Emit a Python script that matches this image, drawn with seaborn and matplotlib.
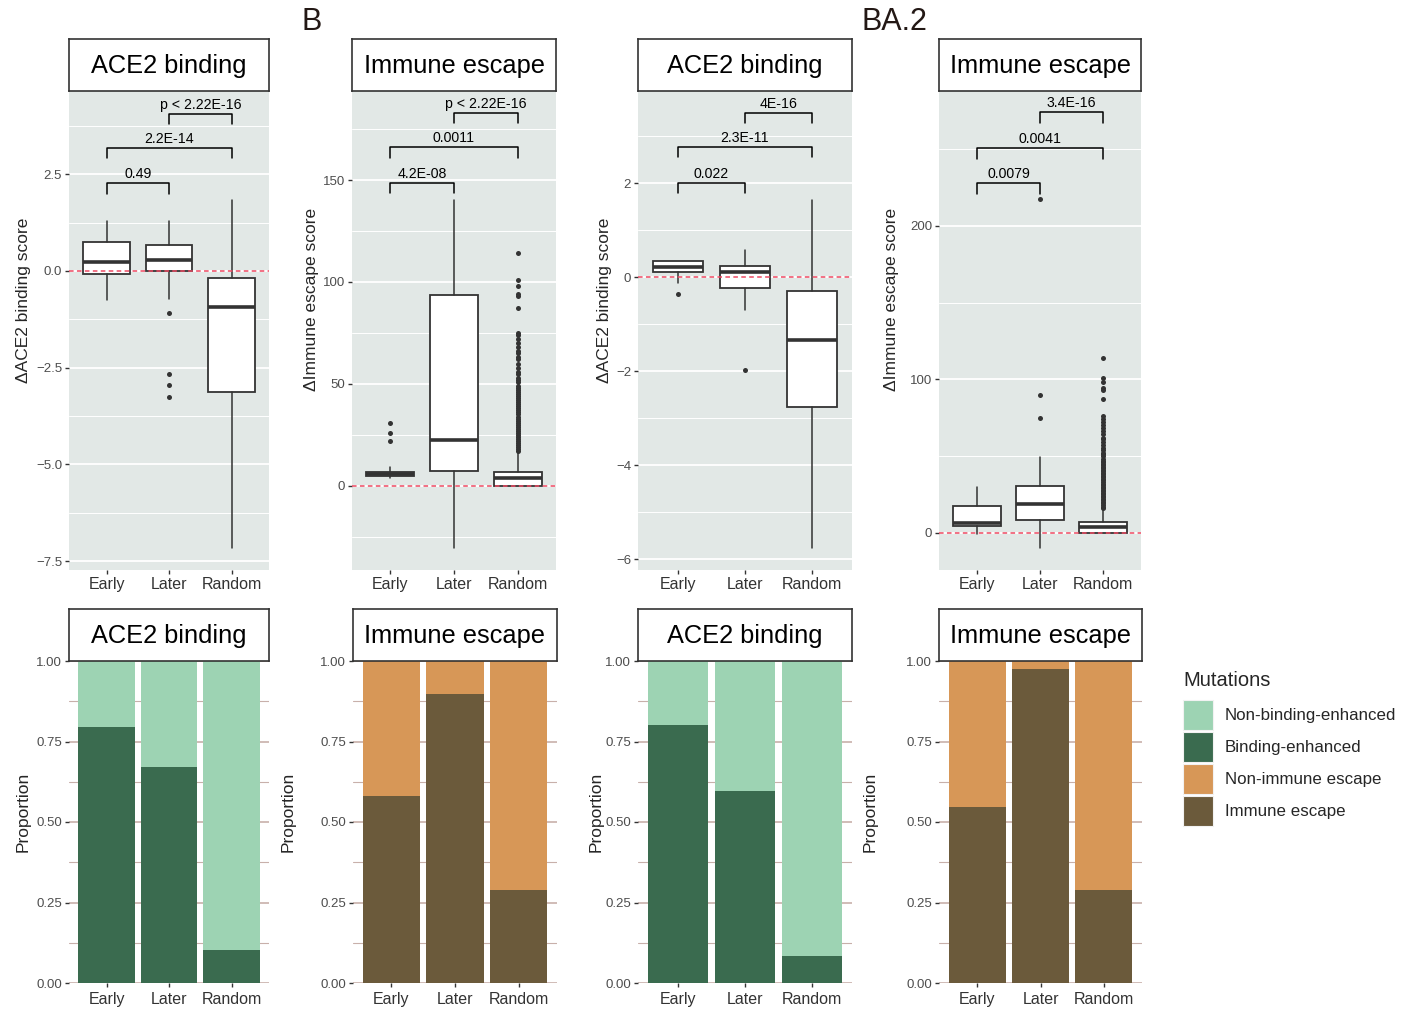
import numpy as np
import pandas as pd
import matplotlib
matplotlib.use("Agg")
import matplotlib.pyplot as plt
from matplotlib.patches import Patch
import seaborn as sns

# ---------------- data ----------------
groups = ["Early", "Later", "Random"]

# panel 1: ACE2 binding (first set)
a1_lo = [-0.74, -0.72, -7.15]
a1_q1 = [-0.09, 0.00, -3.13]
a1_med = [0.23, 0.29, -0.94]
a1_q3 = [0.74, 0.66, -0.18]
a1_hi = [1.30, 1.30, 1.83]
a1_out = [[], [-1.10, -2.67, -2.95, -3.27], []]
a1_pvals = ["0.49", "2.2E-14", "p < 2.22E-16"]
a1_bracket_y = [2.26, 3.18, 4.06]

# panel 2: immune escape (first set)
i1_lo = [4.0, -30.6, 0.0]
i1_q1 = [4.7, 7.1, 0.0]
i1_med = [5.6, 22.5, 3.75]
i1_q3 = [6.6, 93.8, 6.6]
i1_hi = [9.0, 140.3, 16.0]
i1_out = [[22.1, 25.7, 30.6], [],
          [17, 18, 19, 20, 21, 22, 23, 24, 25, 26, 27, 28, 29, 30, 31, 32, 33, 34, 35,
           36, 37, 38, 39, 40, 41, 42, 43, 44, 45, 46, 47, 48, 49, 51, 52, 53, 55, 56,
           58, 60, 62, 63, 65, 66, 68, 70, 72, 74, 75, 87, 93, 94, 98, 101, 114]]
i1_pvals = ["4.2E-08", "0.0011", "p < 2.22E-16"]
i1_bracket_y = [148.5, 166.0, 182.8]

# panel 3: ACE2 binding (BA.2)
a2_lo = [-0.13, -0.70, -5.76]
a2_q1 = [0.10, -0.23, -2.77]
a2_med = [0.22, 0.12, -1.33]
a2_q3 = [0.34, 0.24, -0.29]
a2_hi = [0.34, 0.58, 1.64]
a2_out = [[-0.35], [-1.97], []]
a2_pvals = ["0.022", "2.3E-11", "4E-16"]
a2_bracket_y = [2.00, 2.77, 3.50]

# panel 4: immune escape (BA.2)
i2_lo = [-1.2, -10.2, 0.0]
i2_q1 = [4.2, 8.5, 0.0]
i2_med = [6.0, 18.5, 3.7]
i2_q3 = [17.2, 30.4, 6.7]
i2_hi = [29.9, 49.0, 15.5]
i2_out = [[], [74.6, 89.5, 217.5],
          [16, 17, 18, 19, 20, 21, 22, 23, 24, 25, 26, 27, 28, 29, 30, 31, 32, 33, 34,
           35, 36, 37, 38, 39, 40, 41, 42, 43, 44, 45, 46, 47, 48, 50, 51, 52, 54, 55,
           57, 59, 61, 62, 64, 66, 68, 70, 72, 74, 76, 87, 93, 94, 98, 101, 114]]
i2_pvals = ["0.0079", "0.0041", "3.4E-16"]
i2_bracket_y = [228.0, 250.6, 274.0]

bracket_pairs = [(0, 1), (0, 2), (1, 2)]

# bottom row: proportion of the "enhanced"/"escape" class per group
bind1_prop = [0.796, 0.670, 0.104]
esc1_prop = [0.582, 0.896, 0.290]
bind2_prop = [0.800, 0.595, 0.085]
esc2_prop = [0.548, 0.975, 0.289]

legend_labels = ["Non-binding-enhanced", "Binding-enhanced", "Non-immune escape", "Immune escape"]
legend_colors = ["#9dd3b3", "#3a6b4f", "#d79757", "#6b5a3b"]

# ---------------- style ----------------
sns.set_style("white")
plt.rcParams["font.family"] = ["Liberation Sans", "DejaVu Sans"]

W, H = 1411, 1009
PANEL_BG = "#e2e8e6"
DARK = "#333333"
GRID_BOTTOM = "#c8b0aa"

fig = plt.figure(figsize=(W / 100, H / 100), dpi=100)


def rect(x0, y0, x1, y1):
    return [x0 / W, 1 - y1 / H, (x1 - x0) / W, (y1 - y0) / H]


def add_strip(x0, x1, y0, y1, title):
    sax = fig.add_axes(rect(x0, y0, x1, y1))
    sax.set_facecolor("white")
    sax.set_xticks([])
    sax.set_yticks([])
    for s in sax.spines.values():
        s.set_visible(True)
        s.set_color(DARK)
        s.set_linewidth(1.2)
    sax.text(0.5, 0.48, title, ha="center", va="center", fontsize=18.3, color="black")
    return sax


def style_ticks(ax):
    ax.tick_params(axis="y", which="major", length=3, width=1, color=DARK,
                   labelsize=9.5, labelcolor="#4d4d4d", pad=2, left=True)
    ax.tick_params(axis="y", which="minor", length=0)
    ax.tick_params(axis="x", length=3, width=1, color=DARK, labelsize=11.5,
                   labelcolor="#333333", pad=2, bottom=True)
    for s in ax.spines.values():
        s.set_visible(False)


def box_panel(xr, lo, q1, med, q3, hi, out, ylim, major, minor, tick_labels,
              pvals, bracket_y, leg, ylabel, label_x, title):
    ax = fig.add_axes(rect(xr[0], 91, xr[1], 570))
    ax.set_facecolor(PANEL_BG)
    stats = [dict(whislo=lo[i], q1=q1[i], med=med[i], q3=q3[i], whishi=hi[i],
                  fliers=out[i]) for i in range(len(groups))]
    ax.bxp(stats, positions=range(len(groups)), widths=0.75, patch_artist=True,
           showcaps=False,
           boxprops=dict(facecolor="white", edgecolor=DARK, linewidth=1.3),
           medianprops=dict(color=DARK, linewidth=2.6),
           whiskerprops=dict(color=DARK, linewidth=1.1),
           flierprops=dict(marker="o", markersize=3.6, markerfacecolor=DARK,
                           markeredgecolor="none"))
    ax.axhline(0, color="#ee4a63", lw=1.1, ls=(0, (3, 2.2)), zorder=5)
    for (i, j), top, txt in zip(bracket_pairs, bracket_y, pvals):
        ax.plot([i, i, j, j], [top - leg, top, top, top - leg], color="black", lw=1.1)
        ax.annotate(txt, (0.5 * (i + j), top), xytext=(0, 1.5), textcoords="offset points",
                    ha="center", va="bottom", fontsize=10.2, color="black")
    ax.set_xlim(-0.6, 2.6)
    ax.set_ylim(*ylim)
    ax.set_xticks(range(len(groups)))
    ax.set_xticklabels(groups)
    ax.set_yticks(major)
    ax.set_yticklabels(tick_labels)
    ax.set_yticks(minor, minor=True)
    ax.grid(which="major", axis="y", color="white", lw=1.3)
    ax.grid(which="minor", axis="y", color="white", lw=0.7)
    ax.grid(which="major", axis="x", visible=False)
    ax.set_axisbelow(True)
    style_ticks(ax)
    ax.set_ylabel(ylabel, fontsize=12.5)
    ax.yaxis.set_label_coords(label_x, 0.564)
    add_strip(xr[0], xr[1], 39, 91, title)
    return ax


def bar_panel(xr, props, light, dark, label_x, title):
    ax = fig.add_axes(rect(xr[0], 661, xr[1], 983))
    df = pd.DataFrame({"group": groups, "total": [1.0] * len(groups), "part": props})
    sns.barplot(data=df, x="group", y="total", color=light, width=0.9, saturation=1,
                linewidth=0, errorbar=None, ax=ax)
    sns.barplot(data=df, x="group", y="part", color=dark, width=0.9, saturation=1,
                linewidth=0, errorbar=None, ax=ax)
    ax.set_xlim(-0.6, 2.6)
    ax.set_ylim(0, 1)
    ax.set_yticks([0, 0.25, 0.5, 0.75, 1.0])
    ax.set_yticklabels(["0.00", "0.25", "0.50", "0.75", "1.00"])
    ax.set_yticks([0.125, 0.375, 0.625, 0.875], minor=True)
    ax.grid(which="major", axis="y", color=GRID_BOTTOM, lw=1.2)
    ax.grid(which="minor", axis="y", color=GRID_BOTTOM, lw=0.8)
    ax.set_axisbelow(True)
    style_ticks(ax)
    ax.tick_params(axis="x", pad=3.5)
    ax.set_xlabel("")
    ax.set_ylabel("Proportion", fontsize=12.5)
    ax.yaxis.set_label_coords(label_x, 0.531)
    add_strip(xr[0], xr[1], 609, 661, title)
    return ax


# ---------------- top row ----------------
box_panel((69, 269), a1_lo, a1_q1, a1_med, a1_q3, a1_hi, a1_out, (-7.73, 4.65),
          [-7.5, -5.0, -2.5, 0.0, 2.5], [-6.25, -3.75, -1.25, 1.25, 3.75],
          ["\u22127.5", "\u22125.0", "\u22122.5", "0.0", "2.5"],
          a1_pvals, a1_bracket_y, 0.27, "\u0394ACE2 binding score", -0.19, "ACE2 binding")
box_panel((352, 556), i1_lo, i1_q1, i1_med, i1_q3, i1_hi, i1_out, (-41.3, 193.7),
          [0, 50, 100, 150], [-25, 25, 75, 125, 175],
          ["0", "50", "100", "150"],
          i1_pvals, i1_bracket_y, 5.0, "\u0394Immune escape score", -0.162, "Immune escape")
box_panel((638, 852), a2_lo, a2_q1, a2_med, a2_q3, a2_hi, a2_out, (-6.23, 3.96),
          [-6, -4, -2, 0, 2], [-5, -3, -1, 1, 3],
          ["\u22126", "\u22124", "\u22122", "0", "2"],
          a2_pvals, a2_bracket_y, 0.22, "\u0394ACE2 binding score", -0.121, "ACE2 binding")
box_panel((939, 1141), i2_lo, i2_q1, i2_med, i2_q3, i2_hi, i2_out, (-24.4, 288),
          [0, 100, 200], [50, 150, 250],
          ["0", "100", "200"],
          i2_pvals, i2_bracket_y, 7.0, "\u0394Immune escape score", -0.198, "Immune escape")

# ---------------- bottom row ----------------
bar_panel((69, 269), bind1_prop, legend_colors[0], legend_colors[1], -0.19, "ACE2 binding")
bar_panel((353, 557), esc1_prop, legend_colors[2], legend_colors[3], -0.279, "Immune escape")
bar_panel((638, 852), bind2_prop, legend_colors[0], legend_colors[1], -0.159, "ACE2 binding")
bar_panel((939, 1142), esc2_prop, legend_colors[2], legend_colors[3], -0.300, "Immune escape")

# panel tags
fig.text(301 / W, 1 - 22 / H, "B", fontsize=22, color="#231815", ha="left", va="center")
fig.text(862 / W, 1 - 22 / H, "BA.2", fontsize=22, color="#231815", ha="left", va="center")

# legend (title as separate text to match the gap above the keys)
fig.text(1183 / W, 1 - 680 / H, "Mutations", fontsize=14.5, ha="left", va="center")
handles = [Patch(facecolor=c, edgecolor="#f2f2f2", linewidth=0.8) for c in legend_colors]
fig.legend(handles, legend_labels, loc="upper left",
           bbox_to_anchor=(1183 / W, 1 - 700 / H), frameon=False, fontsize=12.2,
           handlelength=1.77, handleheight=2.35, labelspacing=0.12,
           handletextpad=0.7, borderaxespad=0, borderpad=0)

fig.savefig("out.png", dpi=100)
